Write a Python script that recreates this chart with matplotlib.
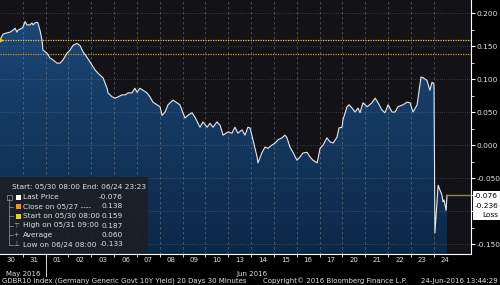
import numpy as np
import matplotlib.pyplot as plt
from matplotlib.patches import Rectangle, Polygon
from matplotlib.colors import LinearSegmentedColormap
import matplotlib.transforms as mtrans

# GDBR10 30-minute yields, x in trading days since 05/30 08:00
t_days = [0.00, 0.13, 0.31, 0.44, 0.57, 0.66, 0.74, 0.79, 0.96, 1.01,
          1.10, 1.18, 1.31, 1.40, 1.45, 1.53, 1.62, 1.66, 1.75, 1.84,
          1.88, 2.06, 2.19, 2.32, 2.50, 2.63, 2.76, 2.93, 3.07, 3.20,
          3.37, 3.50, 3.64, 3.81, 3.94, 4.03, 4.16, 4.29, 4.47, 4.51,
          4.60, 4.69, 4.73, 4.91, 5.04, 5.17, 5.34, 5.48, 5.61, 5.78,
          5.91, 6.00, 6.13, 6.26, 6.44, 6.57, 6.70, 6.88, 7.01, 7.10,
          7.23, 7.36, 7.45, 7.58, 7.75, 7.88, 8.10, 8.23, 8.41, 8.54,
          8.76, 8.89, 9.07, 9.20, 9.33, 9.50, 9.64, 9.77, 9.99, 10.16,
          10.29, 10.42, 10.60, 10.73, 10.86, 10.95, 11.08, 11.26, 11.30, 11.48,
          11.61, 11.74, 11.91, 12.05, 12.18, 12.35, 12.48, 12.57, 12.70, 12.83,
          13.01, 13.14, 13.27, 13.45, 13.58, 13.71, 13.89, 13.93, 14.02, 14.15,
          14.32, 14.45, 14.59, 14.76, 14.85, 14.98, 15.02, 15.20, 15.29, 15.42,
          15.55, 15.68, 15.77, 15.90, 16.08, 16.29, 16.43, 16.56, 16.73, 16.86,
          17.00, 17.17, 17.30, 17.43, 17.65, 17.83, 17.96, 18.09, 18.27, 18.31,
          18.44, 18.53, 18.70, 18.83, 18.92, 18.97, 19.01, 19.05, 19.19, 19.27,
          19.36, 19.40, 19.45, 19.54, 19.58]
yld = [0.159, 0.168, 0.170, 0.171, 0.174, 0.177, 0.171, 0.174, 0.177, 0.179,
       0.187, 0.182, 0.182, 0.185, 0.182, 0.185, 0.186, 0.185, 0.174, 0.159,
       0.144, 0.139, 0.132, 0.129, 0.124, 0.124, 0.129, 0.139, 0.144, 0.151,
       0.154, 0.151, 0.141, 0.133, 0.126, 0.121, 0.114, 0.109, 0.103, 0.102,
       0.094, 0.086, 0.079, 0.073, 0.071, 0.073, 0.076, 0.076, 0.079, 0.079,
       0.086, 0.080, 0.086, 0.083, 0.079, 0.073, 0.065, 0.061, 0.058, 0.045,
       0.050, 0.061, 0.064, 0.068, 0.064, 0.061, 0.041, 0.045, 0.049, 0.042,
       0.027, 0.035, 0.027, 0.033, 0.027, 0.035, 0.030, 0.015, 0.020, 0.018,
       0.027, 0.018, 0.023, 0.015, 0.027, 0.026, 0.008, -0.018, -0.027, -0.011,
       -0.003, -0.005, 0.000, 0.003, 0.008, 0.011, 0.015, 0.011, -0.003, -0.011,
       -0.023, -0.018, -0.012, -0.011, -0.018, -0.023, -0.027, -0.020, -0.005, 0.000,
       0.011, 0.005, 0.003, 0.012, 0.026, 0.027, 0.038, 0.058, 0.061, 0.056,
       0.050, 0.056, 0.049, 0.064, 0.058, 0.064, 0.071, 0.064, 0.053, 0.049,
       0.061, 0.050, 0.050, 0.058, 0.061, 0.065, 0.064, 0.050, 0.061, 0.071,
       0.103, 0.102, 0.098, 0.083, 0.095, 0.094, 0.091, -0.133, -0.061, -0.068,
       -0.076, -0.086, -0.083, -0.099, -0.076]

day_labels = ['30', '31', '01', '02', '03', '06', '07', '08', '09', '10',
              '13', '14', '15', '16', '17', '20', '21', '22', '23', '24']
months = ['May 2016', 'Jun 2016']
month_pos = [1.0, 11.04]

last_price = -0.076
close_prev = 0.138
start_val = 0.159
high_val = 0.187
avg_val = 0.060
low_val = -0.133
loss_val = -0.236

legend_rows = [
    ('Last Price', last_price),
    ('Close on 05/27 ----', close_prev),
    ('Start on 05/30 08:00', start_val),
    ('High on 05/31 09:00', high_val),
    ('Average', avg_val),
    ('Low on 06/24 08:00', low_val),
]

W, H = 500, 285
XMAX = 20.63
YMIN, YMAX = -0.165, 0.2197
FS = 5.3
TXT = '#e2e2e2'


def px(x, y):
    return x / W, 1 - y / H


fig = plt.figure(figsize=(5, 2.85), dpi=100, facecolor='black')
ax = fig.add_axes([0, 31 / H, 471 / W, 254 / H])
ax.set_facecolor('#121217')
ax.set_xlim(0, XMAX)
ax.set_ylim(YMIN, YMAX)

# area fill with a vertical gradient
t = np.array(t_days)
v = np.array(yld)
verts = np.vstack([np.column_stack([t, v]), [[t[-1], YMIN], [t[0], YMIN]]])
poly = Polygon(verts, closed=True, facecolor='none', edgecolor='none')
ax.add_patch(poly)
cmap = LinearSegmentedColormap.from_list('fill', ['#0c2848', '#1c4776'])
grad = np.linspace(0, 1, 256).reshape(-1, 1)
im = ax.imshow(grad, extent=[0, XMAX, YMIN, 0.20], origin='lower', cmap=cmap,
               aspect='auto', zorder=1)
im.set_clip_path(poly)

# grid
for d in range(1, 20):
    ax.axvline(d, color='#8a8a8a', lw=0.6, ls=(0, (3, 3)), alpha=0.55, zorder=2)
for yv in np.arange(-0.15, 0.201, 0.05):
    ax.axhline(yv, color='#8a8a8a', lw=0.5, ls=(0, (1, 2)), alpha=0.6, zorder=2)

ax.axhline(start_val, color='#e6cf22', lw=0.9, ls=(0, (1, 1)), zorder=3)
ax.axhline(close_prev, color='#c99b22', lw=0.9, ls=(0, (1, 1)), zorder=3)

ax.plot(t, v, color='#e8e8ea', lw=0.8, zorder=4)
ax.plot([t[-1], XMAX], [last_price, last_price], color='#8f8752', lw=1.0, zorder=4)
ax.plot(0, start_val, marker='>', color='#e6cf22', ms=3, clip_on=False, zorder=5)

# axes styling
for s in ['left', 'top']:
    ax.spines[s].set_visible(False)
for s in ['right', 'bottom']:
    ax.spines[s].set_color('white')
    ax.spines[s].set_linewidth(0.8)

yticks = np.arange(-0.15, 0.201, 0.05)
ax.yaxis.tick_right()
ax.set_yticks(yticks)
ax.set_yticks(np.arange(-0.125, 0.201, 0.05), minor=True)
# the -0.100 label sits under the last-price tag in the original
ax.set_yticklabels(['' if abs(y + 0.1) < 1e-9 else '%.3f' % y for y in yticks])
ax.tick_params(axis='y', which='major', colors='white', labelcolor=TXT,
               labelsize=5.4, length=3, width=0.8, pad=1)
ax.tick_params(axis='y', which='minor', colors='white', length=2, width=0.6)

ax.set_xticks(np.arange(1, 20))
ax.set_xticklabels([])
ax.set_xticks(np.arange(20) + 0.5, minor=True)
ax.set_xticklabels(day_labels, minor=True)
ax.tick_params(axis='x', which='major', colors='white', length=2, width=0.6)
ax.tick_params(axis='x', which='minor', length=0, labelcolor=TXT,
               labelsize=5.0, pad=2.5)

trans = mtrans.blended_transform_factory(ax.transData, ax.transAxes)
for m, p in zip(months, month_pos):
    ax.text(p, -0.078, m, transform=trans, ha='center', va='center',
            color=TXT, fontsize=5.0)
ax.plot([2, 2], [0, -0.085], transform=trans, color='white', lw=0.6,
        clip_on=False)

# right-hand price tag
fig.add_artist(Rectangle(px(473, 220), 27 / W, 29 / H, transform=fig.transFigure,
                         facecolor='white', edgecolor='none', zorder=6))
for i, s in enumerate(['%.3f' % last_price, '%.3f' % loss_val, 'Loss']):
    fig.text(*px(498, 196 + i * 9.5), s, ha='right', va='center',
             color='black', fontsize=FS, zorder=7)

# legend panel
fig.add_artist(Rectangle(px(0, 253), 148 / W, 76 / H, transform=fig.transFigure,
                         facecolor='#1b1e26', edgecolor='none', alpha=0.93,
                         zorder=6))
fig.text(*px(12, 187), 'Start: 05/30 08:00 End: 06/24 23:23', ha='left',
         va='center', color=TXT, fontsize=FS, zorder=7)
row_y = [197, 206.5, 216, 225.5, 235, 244.5]
fig.add_artist(plt.Line2D([9 / W, 9 / W], [1 - 199 / H, 1 - 244.5 / H],
                          transform=fig.transFigure, color='#9a9a9a', lw=0.5,
                          zorder=7))
sq_cols = ['white', '#ef9418', '#e6cf22']
marks = ['\u22a4', '+', '\u22a5']
for i, ((lab, val), ry) in enumerate(zip(legend_rows, row_y)):
    if i > 0:
        fig.add_artist(plt.Line2D([9 / W, 13 / W], [1 - ry / H] * 2,
                                  transform=fig.transFigure, color='#9a9a9a',
                                  lw=0.5, zorder=7))
    if i < 3:
        fig.add_artist(Rectangle(px(16, ry + 2.5), 5 / W, 5 / H,
                                 transform=fig.transFigure, facecolor=sq_cols[i],
                                 edgecolor='none', zorder=7))
    else:
        fig.text(*px(16, ry), marks[i - 3], ha='center', va='center',
                 color='#b0b0b0', fontsize=FS - 0.5, zorder=7)
    fig.text(*px(23, ry), lab, ha='left', va='center', color=TXT,
             fontsize=FS, zorder=7)
    fig.text(*px(123, ry), '%.3f' % val, ha='right', va='center', color=TXT,
             fontsize=FS, zorder=7)
fig.add_artist(Rectangle(px(6.5, 199.5), 5 / W, 5 / H, transform=fig.transFigure,
                         facecolor='none', edgecolor='#9a9a9a', lw=0.5, zorder=7))

# footer
fy = 1 - 281 / H
fig.text(2 / W, fy, 'GDBR10 Index (Germany Generic Govt 10Y Yield) 20 Days 30 Minutes',
         ha='left', va='center', color=TXT, fontsize=5.0)
fig.text(263 / W, fy, 'Copyright\u00a9 2016 Bloomberg Finance L.P.',
         ha='left', va='center', color=TXT, fontsize=5.0)
fig.text(498 / W, fy, '24-Jun-2016 13:44:29', ha='right', va='center',
         color=TXT, fontsize=5.0)

fig.savefig('out.png', dpi=100, facecolor='black')
